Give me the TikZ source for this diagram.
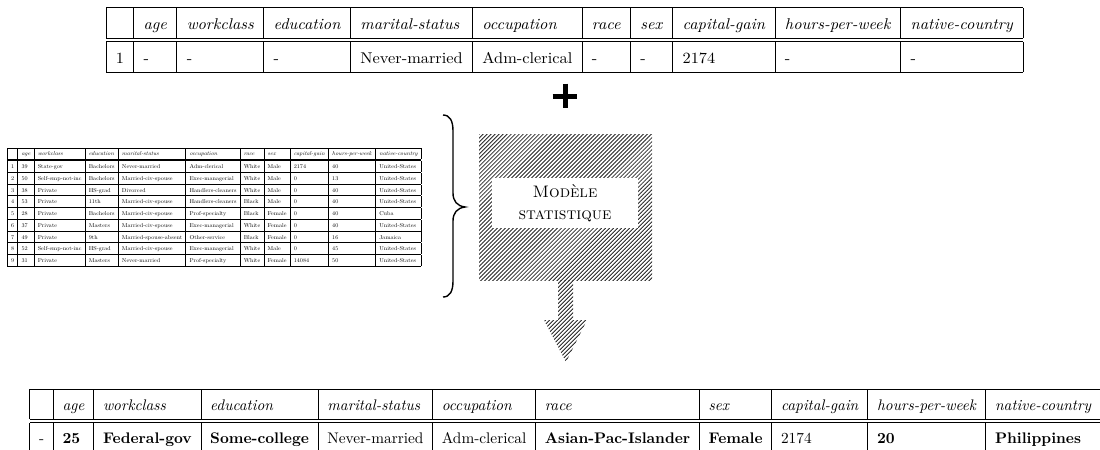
\documentclass[tikz,border=0pt]{standalone}
\usepackage{fontspec}
\usepackage{graphicx}
\usetikzlibrary{patterns.meta}
\newlength\pxu
\setlength\pxu{0.6pt}
\newcommand\mytabsetup{\fontsize{10}{12}\selectfont\def\arraystretch{1.6}\setlength\arrayrulewidth{0.6pt}}
\tikzset{
  tabnode/.style={anchor=north west, inner sep=0pt, outer sep=0pt},
  hatch/.style={pattern={Lines[angle=45,distance=1.7pt,line width=0.5pt]}, pattern color=black!85},
  bracestyle/.style={draw=black, line width=1.4\pxu},
}
\begin{document}
\begin{tikzpicture}[x=\pxu, y=-\pxu]
\useasboundingbox (0,0) rectangle (1100,449);
\clip (0,0) rectangle (1100,449);

% ---------- top table ----------
\node[tabnode] (top) at (106,7.3) {\resizebox*{917\pxu}{65.8\pxu}{\mytabsetup
\begin{tabular}{|l|l|l|l|l|l|l|l|l|l|l|}
\hline
 & \textit{age} & \textit{workclass} & \textit{education} & \textit{marital-status} & \textit{occupation} & \textit{race} & \textit{sex} & \textit{capital-gain} & \textit{hours-per-week} & \textit{native-country}\\
\hline\hline
1 & - & - & - & Never-married & Adm-clerical & - & - & 2174 & - & -\\ \hline
\end{tabular}}};

% ---------- plus ----------
\node[inner sep=0pt, minimum size=24\pxu] (plus) at (565,96) {};
\draw[line width=5\pxu] (plus.west) -- (plus.east) (plus.north) -- (plus.south);

% ---------- small table ----------
\node[tabnode] (small) at (7.5,147.5) {\resizebox*{414\pxu}{119\pxu}{\mytabsetup\setlength\arrayrulewidth{1.5pt}%
\begin{tabular}{|l|l|l|l|l|l|l|l|l|l|l|}
\hline
 & \textit{age} & \textit{workclass} & \textit{education} & \textit{marital-status} & \textit{occupation} & \textit{race} & \textit{sex} & \textit{capital-gain} & \textit{hours-per-week} & \textit{native-country}\\
\hline\hline
1 & 39 & State-gov & Bachelors & Never-married & Adm-clerical & White & Male & 2174 & 40 & United-States\\ \hline
2 & 50 & Self-emp-not-inc & Bachelors & Married-civ-spouse & Exec-managerial & White & Male & 0 & 13 & United-States\\ \hline
3 & 38 & Private & HS-grad & Divorced & Handlers-cleaners & White & Male & 0 & 40 & United-States\\ \hline
4 & 53 & Private & 11th & Married-civ-spouse & Handlers-cleaners & Black & Male & 0 & 40 & United-States\\ \hline
5 & 28 & Private & Bachelors & Married-civ-spouse & Prof-specialty & Black & Female & 0 & 40 & Cuba\\ \hline
6 & 37 & Private & Masters & Married-civ-spouse & Exec-managerial & White & Female & 0 & 40 & United-States\\ \hline
7 & 49 & Private & 9th & Married-spouse-absent & Other-service & Black & Female & 0 & 16 & Jamaica\\ \hline
8 & 52 & Self-emp-not-inc & HS-grad & Married-civ-spouse & Exec-managerial & White & Male & 0 & 45 & United-States\\ \hline
9 & 31 & Private & Masters & Never-married & Prof-specialty & White & Female & 14084 & 50 & United-States\\ \hline
\end{tabular}}};

% ---------- brace ----------
\draw[bracestyle] (443,115) .. controls (450,115) and (453,121) .. (453,131)
  -- (453,193) .. controls (453,201) and (457,206) .. (465,207)
  .. controls (457,208) and (453,213) .. (453,221)
  -- (453,281) .. controls (453,291) and (450,297) .. (443,297);

% ---------- hatched model ----------
\node[hatch, inner sep=0pt, minimum width=173\pxu, minimum height=146\pxu] (hatchbox) at (565.5,207) {};
\node[fill=white, inner sep=0pt, minimum width=146\pxu, minimum height=50\pxu, align=center,
      font=\fontsize{10}{13}\selectfont\scshape] (model) at (565,203) {Modèle\\statistique};
\fill[hatch] (558,280) -- (573,280) -- (573,320) -- (587,320) -- (566,362) -- (544,320) -- (558,320) -- cycle;

% ---------- bottom table ----------
\node[tabnode] (bottom) at (29.8,388.5) {\scalebox{0.921}{\mytabsetup
\begin{tabular}{|l|l|l|l|l|l|l|l|l|l|l|}
\hline
 & \textit{age} & \textit{workclass} & \textit{education} & \textit{marital-status} & \textit{occupation} & \textit{race} & \textit{sex} & \textit{capital-gain} & \textit{hours-per-week} & \textit{native-country}\\
\hline\hline
- & \textbf{25} & \textbf{Federal-gov} & \textbf{Some-college} & Never-married & Adm-clerical & \textbf{Asian-Pac-Islander} & \textbf{Female} & 2174 & \textbf{20} & \textbf{Philippines}\\ \hline
\end{tabular}}};
\end{tikzpicture}
\end{document}
